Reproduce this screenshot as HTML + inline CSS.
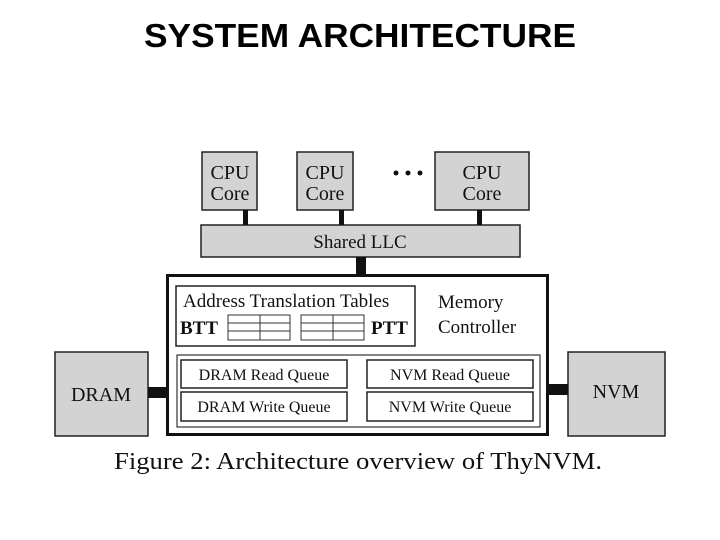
<!DOCTYPE html>
<html><head><meta charset="utf-8"><style>
html,body{margin:0;padding:0;background:#fff;}
svg{display:block;}
.s{font-family:"Liberation Serif",serif;fill:#111;}
</style></head><body>
<svg width="720" height="540" viewBox="0 0 720 540" xmlns="http://www.w3.org/2000/svg">
<text x="360" y="47" text-anchor="middle" font-family="Liberation Sans, sans-serif" font-weight="bold" font-size="33" textLength="432" lengthAdjust="spacingAndGlyphs" fill="#000">SYSTEM ARCHITECTURE</text>

<!-- CPU cores -->
<g fill="#d3d3d3" stroke="#222" stroke-width="1.5">
<rect x="202" y="152" width="55" height="58"/>
<rect x="297" y="152" width="56" height="58"/>
<rect x="435" y="152" width="94" height="58"/>
<rect x="201" y="225" width="319" height="32"/>
<rect x="55" y="352" width="93" height="84"/>
<rect x="568" y="352" width="97" height="84"/>
</g>
<g class="s" font-size="20" text-anchor="middle">
<text x="230" y="179">CPU</text><text x="230" y="200">Core</text>
<text x="325" y="179">CPU</text><text x="325" y="200">Core</text>
<text x="482" y="179">CPU</text><text x="482" y="200">Core</text>
<text x="360" y="248" font-size="19">Shared LLC</text>
<text x="101" y="401">DRAM</text>
<text x="616" y="398">NVM</text>
</g>
<g fill="#111">
<circle cx="396" cy="173" r="2.5"/><circle cx="408" cy="173" r="2.5"/><circle cx="420" cy="173" r="2.5"/>
<rect x="243" y="210" width="5" height="15"/>
<rect x="339" y="210" width="5" height="15"/>
<rect x="477" y="210" width="5" height="15"/>
<rect x="356" y="257" width="10" height="18"/>
<rect x="148" y="387" width="19" height="11"/>
<rect x="548" y="384" width="20" height="11"/>
</g>

<!-- memory controller -->
<rect x="167.5" y="275.5" width="380" height="159" fill="#fff" stroke="#111" stroke-width="3"/>
<rect x="176" y="286" width="239" height="60" fill="#fff" stroke="#222" stroke-width="1.5"/>
<g class="s">
<text x="183" y="307" font-size="19">Address Translation Tables</text>
<text x="180" y="334" font-size="19" font-weight="bold">BTT</text>
<text x="371" y="334" font-size="19" font-weight="bold">PTT</text>
<text x="438" y="308" font-size="19">Memory</text>
<text x="438" y="333" font-size="19">Controller</text>
</g>
<g fill="none" stroke="#333" stroke-width="1">
<rect x="228" y="315" width="62" height="25"/>
<line x1="228" y1="323" x2="290" y2="323"/><line x1="228" y1="331" x2="290" y2="331"/><line x1="260" y1="315" x2="260" y2="340"/>
<rect x="301" y="315" width="63" height="25"/>
<line x1="301" y1="323" x2="364" y2="323"/><line x1="301" y1="331" x2="364" y2="331"/><line x1="333" y1="315" x2="333" y2="340"/>
</g>
<rect x="177" y="355" width="363" height="72" fill="#fff" stroke="#333" stroke-width="1.2"/>
<g fill="#fff" stroke="#222" stroke-width="1.5">
<rect x="181" y="360" width="166" height="28"/>
<rect x="181" y="392" width="166" height="29"/>
<rect x="367" y="360" width="166" height="28"/>
<rect x="367" y="392" width="166" height="29"/>
</g>
<g class="s" font-size="16" text-anchor="middle">
<text x="264" y="380">DRAM Read Queue</text>
<text x="264" y="412">DRAM Write Queue</text>
<text x="450" y="380">NVM Read Queue</text>
<text x="450" y="412">NVM Write Queue</text>
</g>
<text x="358" y="469" class="s" font-size="24" text-anchor="middle" textLength="488" lengthAdjust="spacingAndGlyphs">Figure 2: Architecture overview of ThyNVM.</text>
</svg>
</body></html>
